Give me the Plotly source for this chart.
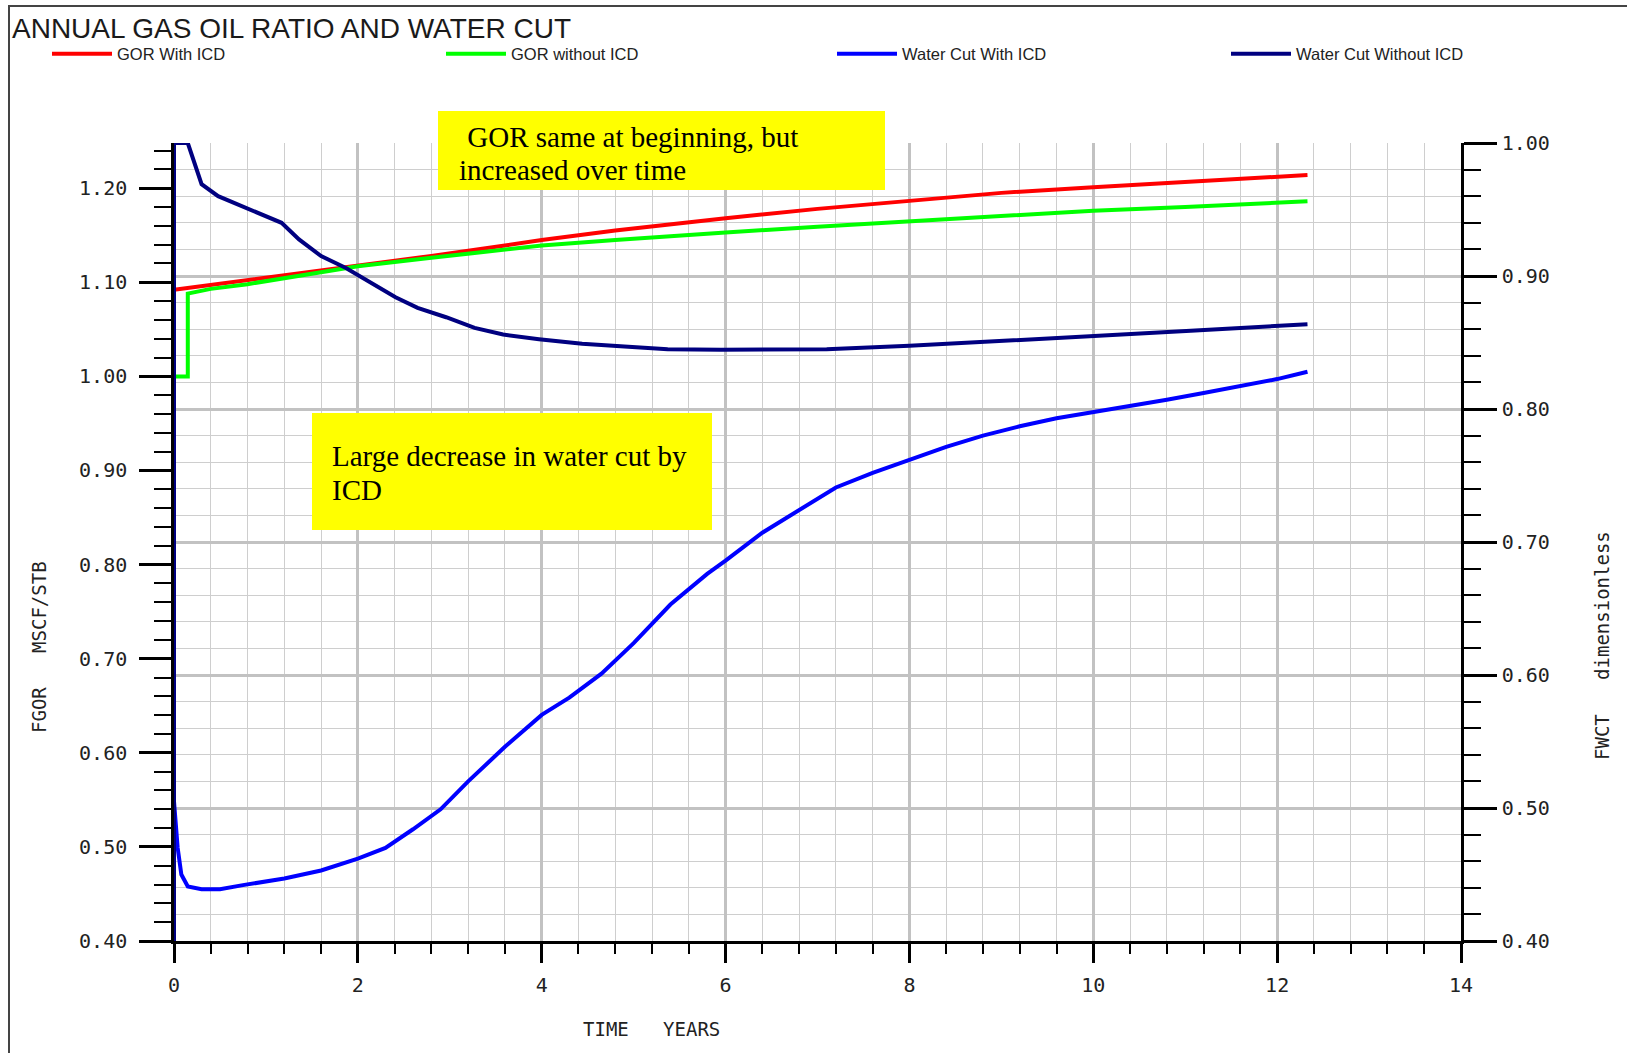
import plotly.graph_objects as go

# ---------------- data ----------------
time_gor_icd = [0.0, 0.4, 0.8, 1.2, 1.6, 2.0, 2.8, 3.6, 4.0, 4.8, 5.6, 6.0, 7.0, 8.0, 9.0, 10.0, 11.0, 12.33]
gor_icd = [1.092, 1.097, 1.103, 1.108, 1.113, 1.118, 1.128, 1.139, 1.145, 1.155, 1.164, 1.168, 1.178,
           1.187, 1.195, 1.201, 1.207, 1.214]

time_gor_no_icd = [0.0, 0.15, 0.15, 0.4, 0.8, 1.2, 1.6, 2.0, 2.8, 3.6, 4.0, 4.8, 5.6, 6.0, 7.0, 8.0,
                   9.0, 10.0, 11.0, 12.33]
gor_no_icd = [1.000, 1.000, 1.088, 1.093, 1.098, 1.104, 1.110, 1.117, 1.126, 1.134, 1.139, 1.145,
              1.151, 1.153, 1.159, 1.165, 1.170, 1.176, 1.180, 1.186]

time_wc_icd = [0.0, 0.04, 0.08, 0.15, 0.3, 0.5, 0.75, 1.2, 1.6, 2.0, 2.3, 2.6, 2.9, 3.2, 3.6, 4.0,
               4.3, 4.65, 5.0, 5.4, 5.8, 6.0, 6.4, 6.8, 7.2, 7.6, 8.0, 8.4, 8.8, 9.2, 9.6, 10.0,
               10.4, 10.8, 11.2, 11.6, 12.0, 12.33]
wc_icd = [0.505, 0.470, 0.450, 0.441, 0.439, 0.439, 0.442, 0.447, 0.453, 0.462, 0.470, 0.484,
          0.499, 0.520, 0.546, 0.570, 0.583, 0.601, 0.624, 0.653, 0.676, 0.686, 0.707, 0.724,
          0.741, 0.752, 0.762, 0.7715, 0.780, 0.787, 0.793, 0.7975, 0.8025, 0.807, 0.812,
          0.8175, 0.8225, 0.828]

time_wc_no_icd = [0.0, 0.0, 0.15, 0.3, 0.48, 0.65, 0.93, 1.17, 1.36, 1.6, 1.87, 2.14, 2.41, 2.65,
                  2.96, 3.27, 3.58, 3.97, 4.44, 4.9, 5.37, 5.95, 7.1, 8.0, 9.0, 10.0, 11.06, 12.33]
wc_no_icd = [0.0, 1.0, 1.0, 0.969, 0.960, 0.955, 0.947, 0.940, 0.9275, 0.915, 0.906, 0.895, 0.884,
             0.876, 0.869, 0.861, 0.856, 0.8525, 0.849, 0.847, 0.845, 0.8445, 0.845, 0.8475,
             0.851, 0.8545, 0.8588, 0.8638]

series_names = ["GOR With ICD", "GOR without ICD", "Water Cut With ICD", "Water Cut Without ICD"]
series_colors = ["#FF0000", "#00FF00", "#0000FF", "#000080"]

title_text = "ANNUAL GAS OIL RATIO AND WATER CUT"
note_gor = ["\u00a0GOR same at beginning, but", "increased over time"]
note_wc = ["Large decrease in water cut by", "ICD"]

# ---------------- layout helpers (pixel -> paper) ----------------
W, H = 1627, 1053
PL, PR, PT, PB = 174, 1461, 143, 941


def px_x(px):
    return (px - PL) / (PR - PL)


def px_y(py):
    return (PB - py) / (PB - PT)


tick_font = dict(family="DejaVu Sans Mono", size=20, color="#222222")
label_font = dict(family="DejaVu Sans Mono", size=19, color="#222222")
grid_major = "#c2c2c2"
grid_minor = "#cecece"

fig = go.Figure()
xs = [time_gor_icd, time_gor_no_icd, time_wc_icd, time_wc_no_icd]
ys = [gor_icd, gor_no_icd, wc_icd, wc_no_icd]
axes = ["y", "y", "y2", "y2"]
legends = ["legend", "legend2", "legend3", "legend4"]
for xv, yv, ax, name, col, lg in zip(xs, ys, axes, series_names, series_colors, legends):
    fig.add_trace(go.Scatter(x=xv, y=yv, yaxis=ax, mode="lines", name=name,
                             line=dict(color=col, width=4), legend=lg))

legend_starts = [52, 446, 837, 1231]
leg_common = dict(orientation="h", xref="container", yref="container", xanchor="left",
                  yanchor="middle", y=1 - 54 / H, itemwidth=60, bgcolor="rgba(0,0,0,0)",
                  font=dict(family="Arial, Liberation Sans", size=16.5, color="#222222"))

layout_legends = {}
for lg, st in zip(legends, legend_starts):
    layout_legends[lg] = dict(leg_common, x=(st - 5) / W)

fig.update_layout(
    width=W, height=H,
    margin=dict(l=PL, r=W - PR, t=PT, b=H - PB, pad=0),
    paper_bgcolor="white", plot_bgcolor="white",
    showlegend=True,
    title=dict(text=title_text, x=12 / W, xref="container", xanchor="left",
               y=1 - 28 / H, yref="container", yanchor="middle",
               font=dict(family="Arial, Liberation Sans", size=28, color="#1a1a1a")),
    xaxis=dict(range=[0, 14], tick0=0, dtick=2, tickformat="d", ticks="outside", ticklen=19,
               tickwidth=3, tickcolor="black", showline=True, linecolor="black", linewidth=2.5,
               showgrid=True, gridcolor=grid_major, gridwidth=2.5, zeroline=False,
               tickfont=tick_font, ticklabelstandoff=5, layer="below traces",
               minor=dict(dtick=0.4, ticks="outside", ticklen=10, tickwidth=1.5,
                          tickcolor="black", showgrid=True, gridcolor=grid_minor, gridwidth=1.3)),
    yaxis=dict(range=[0.40, 1.248], tick0=0.4, dtick=0.1, tickformat=".2f", ticks="outside",
               ticklen=32, tickwidth=3, tickcolor="black", showline=True, linecolor="black",
               linewidth=2.5, showgrid=False, zeroline=False, tickfont=tick_font,
               ticklabelstandoff=8, layer="below traces",
               minor=dict(dtick=0.02, ticks="outside", ticklen=17, tickwidth=1.5,
                          tickcolor="black", showgrid=False)),
    yaxis2=dict(overlaying="y", side="right", range=[0.40, 1.00], tick0=0.4, dtick=0.1,
                tickformat=".2f", ticks="outside", ticklen=33, tickwidth=3, tickcolor="black",
                showline=True, linecolor="black", linewidth=2.5, showgrid=True,
                gridcolor=grid_major, gridwidth=2.5, zeroline=False, tickfont=tick_font,
                ticklabelstandoff=1, layer="below traces",
                minor=dict(dtick=0.02, ticks="outside", ticklen=17, tickwidth=1.5,
                           tickcolor="black", showgrid=True, gridcolor=grid_minor,
                           gridwidth=1.3)),
    **layout_legends,
)

# outer frame of the picture
fig.add_shape(type="rect", xref="paper", yref="paper",
              x0=px_x(9), x1=px_x(1700), y0=px_y(1100), y1=px_y(6),
              line=dict(color="#444444", width=2), fillcolor="rgba(0,0,0,0)", layer="above")

# yellow note boxes
fig.add_shape(type="rect", xref="paper", yref="paper",
              x0=px_x(438), x1=px_x(885), y0=px_y(190), y1=px_y(111),
              line=dict(width=0), fillcolor="#FFFF00", layer="above")
fig.add_shape(type="rect", xref="paper", yref="paper",
              x0=px_x(312), x1=px_x(712), y0=px_y(530), y1=px_y(413),
              line=dict(width=0), fillcolor="#FFFF00", layer="above")

serif = dict(family="Times New Roman, Liberation Serif", size=29, color="black")
for txt, xx, yy in [(note_gor[0], 458, 137), (note_gor[1], 457, 170),
                    (note_wc[0], 330, 456), (note_wc[1], 330, 490)]:
    fig.add_annotation(text=txt, xref="paper", yref="paper", x=px_x(xx), y=px_y(yy),
                       xanchor="left", yanchor="middle", showarrow=False, font=serif)

# axis titles
fig.add_annotation(text="FGOR\u00a0\u00a0\u00a0MSCF/STB", xref="paper", yref="paper",
                   x=px_x(39), y=px_y(647), textangle=-90, showarrow=False,
                   xanchor="center", yanchor="middle", font=label_font)
fig.add_annotation(text="FWCT\u00a0\u00a0\u00a0dimensionless", xref="paper", yref="paper",
                   x=px_x(1602), y=px_y(646), textangle=-90, showarrow=False,
                   xanchor="center", yanchor="middle", font=label_font)
fig.add_annotation(text="TIME\u00a0\u00a0\u00a0YEARS", xref="paper", yref="paper",
                   x=px_x(651), y=px_y(1029), showarrow=False,
                   xanchor="center", yanchor="middle", font=label_font)

fig.write_html("out.html")
